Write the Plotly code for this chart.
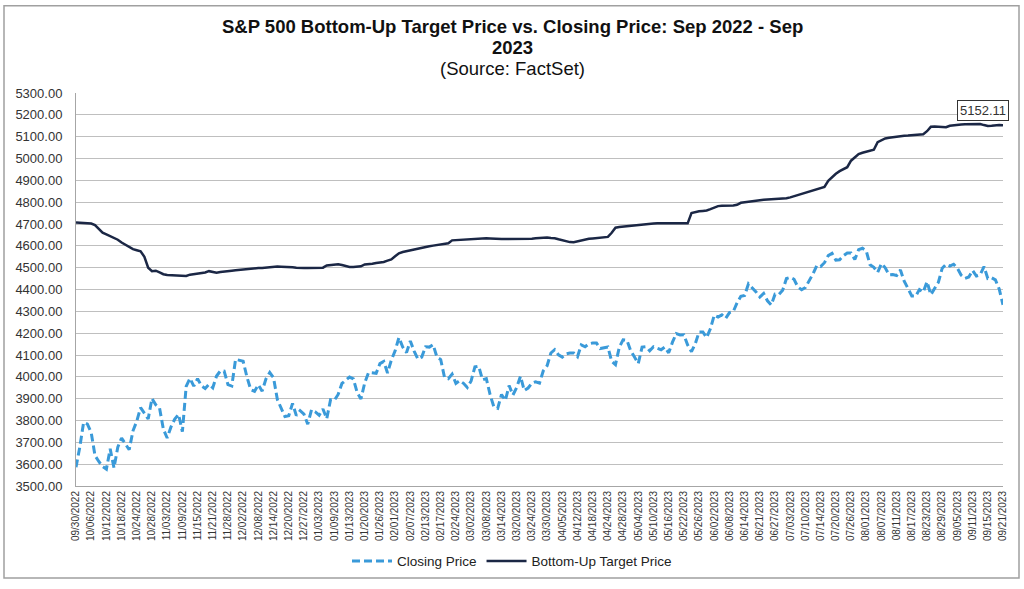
import pandas as pd
import plotly.graph_objects as go

# ---------------- data ----------------
holidays = ["2022-11-24", "2022-12-26", "2023-01-02", "2023-01-16", "2023-02-20",
            "2023-04-07", "2023-05-29", "2023-06-19", "2023-07-04", "2023-09-04"]
dates = pd.bdate_range("2022-09-30", "2023-09-21", freq="C", holidays=holidays)
categories = [d.strftime("%Y-%m-%d") for d in dates]

closing_price = [
    3585.62,
    # Oct 2022
    3678.43, 3790.93, 3783.28, 3744.52, 3639.66, 3612.39, 3588.84, 3577.03, 3669.91, 3583.07,
    3677.95, 3719.98, 3695.16, 3665.78, 3752.75, 3797.34, 3859.11, 3830.60, 3807.30, 3901.06,
    3871.98,
    # Nov 2022
    3856.10, 3759.69, 3719.89, 3770.55, 3806.80, 3828.11, 3748.57, 3956.37, 3992.93, 3957.25,
    3991.73, 3958.79, 3946.56, 3965.34, 3949.94, 4003.58, 4027.26, 4026.12, 3963.94, 3957.63,
    4080.11,
    # Dec 2022
    4076.57, 4071.70, 3998.84, 3941.26, 3933.92, 3963.51, 3934.38, 3990.56, 4019.65, 3995.32,
    3895.75, 3852.36, 3817.66, 3821.62, 3878.44, 3822.39, 3844.82, 3829.25, 3783.22, 3849.28,
    3839.50,
    # Jan 2023
    3824.14, 3852.97, 3808.10, 3895.08, 3892.09, 3919.25, 3969.61, 3983.17, 3999.09, 3990.97,
    3928.86, 3898.85, 3972.61, 4019.81, 4016.95, 4016.22, 4060.43, 4070.56, 4017.77, 4076.60,
    # Feb 2023
    4119.21, 4179.76, 4136.48, 4111.08, 4164.00, 4117.86, 4081.50, 4090.46, 4137.29, 4136.13,
    4147.60, 4090.41, 4079.09, 3997.34, 3991.05, 4012.32, 3970.04, 3982.24, 3970.15,
    # Mar 2023
    3951.39, 3981.35, 4045.64, 4048.42, 3986.37, 3992.01, 3918.32, 3861.59, 3855.76, 3919.29,
    3891.93, 3960.28, 3916.64, 3951.57, 4002.87, 3936.97, 3948.72, 3970.99, 3977.53, 3971.27,
    4027.81, 4050.83, 4109.31,
    # Apr 2023
    4124.51, 4100.60, 4090.38, 4105.02, 4109.11, 4108.94, 4091.95, 4146.22, 4137.64, 4151.32,
    4154.87, 4154.52, 4129.79, 4133.52, 4137.04, 4071.63, 4055.99, 4135.35, 4169.48,
    # May 2023
    4167.87, 4119.58, 4090.75, 4061.22, 4136.25, 4138.12, 4119.17, 4137.64, 4130.62, 4124.08,
    4136.28, 4109.90, 4158.77, 4198.05, 4191.98, 4192.63, 4145.58, 4115.24, 4151.28, 4205.45,
    4205.52, 4179.83,
    # Jun 2023
    4221.02, 4282.37, 4273.79, 4283.85, 4267.52, 4293.93, 4298.86, 4338.93, 4369.01, 4372.59,
    4425.84, 4409.59, 4388.71, 4365.69, 4381.89, 4348.33, 4328.82, 4378.41, 4376.86, 4396.44,
    4450.38,
    # Jul 2023
    4455.59, 4446.82, 4411.59, 4398.95, 4409.53, 4439.26, 4472.16, 4510.04, 4505.42, 4522.79,
    4554.98, 4565.72, 4534.87, 4536.34, 4554.64, 4567.46, 4566.75, 4537.41, 4582.23, 4588.96,
    # Aug 2023
    4576.73, 4513.39, 4501.89, 4478.03, 4518.44, 4499.38, 4467.71, 4468.83, 4464.05, 4489.72,
    4437.86, 4404.33, 4370.36, 4369.71, 4399.77, 4387.55, 4436.01, 4376.31, 4405.71, 4433.31,
    4497.63, 4514.87, 4507.66,
    # Sep 2023
    4515.77, 4496.83, 4465.48, 4451.14, 4457.49, 4487.46, 4461.90, 4467.44, 4505.10, 4450.32,
    4453.53, 4443.95, 4402.20, 4330.00,
]

target_price = [
    4707, 4706, 4705, 4704, 4702, 4695, 4675, 4660, 4652, 4643,
    4636, 4628, 4615, 4605, 4592, 4585, 4580, 4575, 4550, 4500,
    4484, 4486, 4478, 4470, 4466, 4465, 4465, 4463, 4460, 4462,
    4468, 4470, 4471, 4474, 4478, 4484, 4480, 4477, 4480, 4483,
    4485, 4486, 4488, 4490, 4490, 4492, 4495, 4497, 4498, 4498,
    4500, 4503, 4505, 4505, 4504, 4504, 4504, 4502, 4500, 4498,
    4498, 4498, 4498, 4499, 4499, 4500, 4510, 4513, 4515, 4516,
    4512, 4506, 4503, 4503, 4503, 4506, 4515, 4515, 4518, 4521,
    4523, 4526, 4532, 4538, 4552, 4566, 4572, 4576, 4580, 4585,
    4589, 4592, 4595, 4598, 4601, 4604, 4606, 4609, 4612, 4625,
    4626, 4628, 4630, 4632, 4633, 4634, 4635, 4635, 4635, 4634,
    4632, 4631, 4631, 4631, 4631, 4631, 4631, 4631, 4631, 4632,
    4633, 4635, 4636, 4638, 4638, 4636, 4635, 4630, 4626, 4620,
    4617, 4616, 4620, 4627, 4630, 4632, 4634, 4636, 4638, 4640,
    4641, 4660, 4683, 4686, 4688, 4691, 4693, 4695, 4696, 4697,
    4698, 4700, 4702, 4703, 4704, 4703, 4703, 4703, 4703, 4703,
    4703, 4703, 4750, 4755, 4758, 4760, 4762, 4768, 4775, 4782,
    4784, 4784, 4785, 4785, 4788, 4797, 4800, 4803, 4806, 4808,
    4809, 4811, 4812, 4813, 4814, 4815, 4817, 4818, 4822, 4827,
    4832, 4838, 4843, 4848, 4853, 4858, 4863, 4870, 4898, 4915,
    4930, 4942, 4950, 4960, 4990, 5005, 5020, 5026, 5030, 5034,
    5040, 5075, 5085, 5092, 5095, 5098, 5100, 5102, 5104, 5105,
    5106, 5108, 5110, 5111, 5125, 5145, 5146, 5145, 5144, 5143,
    5150, 5153, 5155, 5156, 5157, 5158, 5159, 5160, 5158, 5153,
    5149, 5150, 5152, 5153, 5152.11,
]

assert len(categories) == len(closing_price) == len(target_price), (
    len(categories), len(closing_price), len(target_price))

tick_every = 4
tick_vals = categories[::tick_every]
tick_text = [d.strftime("%m/%d/%Y") for d in dates[::tick_every]]

title_line1 = "S&P 500 Bottom-Up Target Price vs. Closing Price: Sep 2022 - Sep"
title_line2 = "2023"
subtitle = "(Source: FactSet)"
last_label = "5152.11"

# ---------------- figure ----------------
FONT = "Liberation Sans, Arial, sans-serif"
W, H = 1024, 589
L, R, T, B = 76, 21, 92.7, 97.3
pw, ph = W - L - R, H - T - B


def px_x(px):
    return (px - L) / pw


def px_y(py):
    return (H - B - py) / ph


fig = go.Figure()
fig.add_trace(go.Scatter(
    x=categories, y=closing_price, name="Closing Price", mode="lines",
    line=dict(color="#3a9ad9", width=3, dash="8px,4px"),
))
fig.add_trace(go.Scatter(
    x=categories, y=target_price, name="Bottom-Up Target Price", mode="lines",
    line=dict(color="#1b2745", width=2.5),
))

annotations = [
    dict(text="<b>" + title_line1 + "</b>", x=px_x(512), y=px_y(25)),
    dict(text="<b>" + title_line2 + "</b>", x=px_x(512), y=px_y(46)),
    dict(text=subtitle, x=px_x(512), y=px_y(68)),
]
ann = []
for a in annotations:
    ann.append(dict(text=a["text"], x=a["x"], y=a["y"], xref="paper", yref="paper",
                    xanchor="center", yanchor="middle", showarrow=False,
                    font=dict(family=FONT, size=18.5, color="#111111")))

ann.append(dict(
    text=last_label, x=categories[-1], y=target_price[-1], xref="x", yref="y",
    showarrow=False, xshift=-20, yshift=15,
    bordercolor="#333333", borderwidth=1, borderpad=2, bgcolor="white",
    font=dict(family=FONT, size=13, color="#333333"),
))

fig.update_layout(
    width=W, height=H,
    margin=dict(l=L, r=R, t=T, b=B, pad=0),
    paper_bgcolor="white", plot_bgcolor="white",
    font=dict(family=FONT, color="#333333"),
    showlegend=True,
    legend=dict(orientation="h", x=px_x(512), y=px_y(568), xanchor="center",
                yanchor="middle", font=dict(family=FONT, size=13.5, color="#222222"),
                itemwidth=40, tracegroupgap=0, bgcolor="rgba(0,0,0,0)"),
    annotations=ann,
    shapes=[dict(type="rect", xref="paper", yref="paper",
                 x0=px_x(4), x1=px_x(1019), y0=px_y(585), y1=px_y(4),
                 line=dict(color="#a0a0a0", width=1.5), layer="below")],
)

fig.update_xaxes(
    type="category", range=[0, len(categories) - 1],
    tickmode="array", tickvals=tick_vals, ticktext=tick_text, tickangle=-90,
    tickfont=dict(family=FONT, size=10, color="#333333"),
    showgrid=False, showline=True, linecolor="#a6a6a6", linewidth=1,
    ticks="", zeroline=False,
)
fig.update_yaxes(
    range=[3500, 5300], dtick=100, tickformat=".2f",
    tickfont=dict(family=FONT, size=13, color="#333333"),
    showgrid=True, gridcolor="#bfbfbf", gridwidth=1,
    showline=True, linecolor="#a6a6a6", linewidth=1,
    ticks="", zeroline=False, ticklabelstandoff=10,
)

fig.write_html("out.html",
               config={"displayModeBar": False},
               post_script="document.body.style.margin='0';document.body.style.overflow='hidden';")
